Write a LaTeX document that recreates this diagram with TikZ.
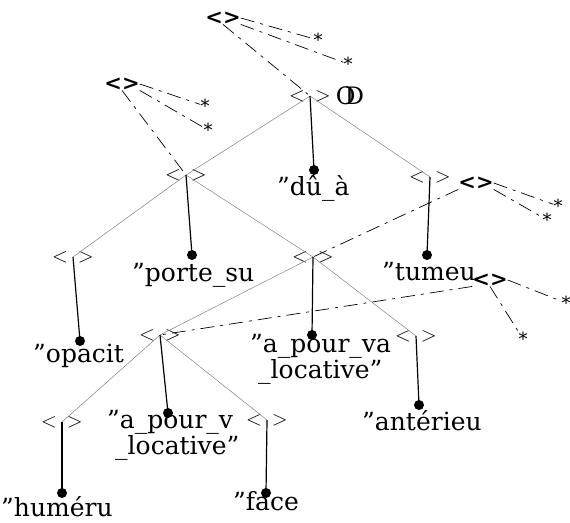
\documentclass[tikz,border=0pt]{standalone}
\usepackage{fontspec}
\setmainfont{DejaVu Serif}
\usetikzlibrary{positioning}
\tikzstyle{treeDiagram} = [x = 1pt, y = -1pt]
\tikzstyle{featNode} = [inner sep = 0pt, font=\fontsize{21}{21}\selectfont]
\tikzstyle{tagNode} = [inner sep = 0pt, font=\fontsize{21}{21}\selectfont\bfseries]
\tikzstyle{starNode} = [inner sep = 0pt, font=\fontsize{18}{18}\selectfont]
\tikzstyle{leafDot} = [circle, fill=black, inner sep = 0pt, minimum size = 10pt]
\tikzstyle{leafText} = [inner sep = 0pt, anchor = base west, align = left, font=\fontsize{25}{17}\selectfont]
\tikzstyle{treeLine} = [color=gray, line width = .5pt]
\tikzstyle{valueLine} = [color=black, line width = 1.2pt]
\tikzstyle{tagLine} = [color=black, line width = .7pt, dash pattern = on 14pt off 6pt on 3pt off 6pt]
\newcommand{\feat}{${<}\hspace{10pt}{>}$}
\newcommand{\dq}{\symbol{34}}

\begin{document}
\begin{tikzpicture}[treeDiagram]
  \useasboundingbox (0,0) rectangle (570,522);

  % feature nodes
  \node [featNode] (root) at (310,96) {\feat};
  \node [featNode] (left) at (186,175) {\feat};
  \node [featNode] (right) at (430,177) {\feat};
  \node [featNode] (leftLeft) at (73,257) {\feat};
  \node [featNode] (leftMid) at (313,257) {\feat};
  \node [featNode] (midLeft) at (160,335) {\feat};
  \node [featNode] (midRight) at (416,336) {\feat};
  \node [featNode] (lowLeft) at (62,422) {\feat};
  \node [featNode] (lowRight) at (267,420) {\feat};
  \node [inner sep = 0pt, font=\fontsize{24}{24}\selectfont] (rootType) at (350,96) {O\kern-.45em D};

  \draw [treeLine] (root.center) -- (left.center);
  \draw [treeLine] (root.center) -- (right.center);
  \draw [treeLine] (left.center) -- (leftLeft.center);
  \draw [treeLine] (left.center) -- (leftMid.center);
  \draw [treeLine] (leftMid.center) -- (midLeft.center);
  \draw [treeLine] (leftMid.center) -- (midRight.center);
  \draw [treeLine] (midLeft.center) -- (lowLeft.center);
  \draw [treeLine] (midLeft.center) -- (lowRight.center);

  % values
  \node [leafDot] (rootDot) at (314,170) {};
  \node [leafDot] (leftDot) at (192,255) {};
  \node [leafDot] (rightDot) at (427,255) {};
  \node [leafDot] (leftLeftDot) at (80,341) {};
  \node [leafDot] (leftMidDot) at (312,335) {};
  \node [leafDot] (midRightDot) at (419,405) {};
  \node [leafDot] (midLeftDot) at (168,413) {};
  \node [leafDot] (lowLeftDot) at (62,493) {};
  \node [leafDot] (lowRightDot) at (266,493) {};

  \draw [valueLine] (root.center) -- (rootDot.center);
  \draw [valueLine] (left.center) -- (leftDot.center);
  \draw [valueLine] (right.center) -- (rightDot.center);
  \draw [valueLine] (leftLeft.center) -- (leftLeftDot.center);
  \draw [valueLine] (leftMid.center) -- (leftMidDot.center);
  \draw [valueLine] (midRight.center) -- (midRightDot.center);
  \draw [valueLine] (midLeft.center) -- (midLeftDot.center);
  \draw [valueLine] (lowLeft.center) -- (lowLeftDot.center);
  \draw [valueLine] (lowRight.center) -- (lowRightDot.center);

  \node [leafText] (rootVal) at (277,195) {\dq dû\_à};
  \node [leafText] (leftVal) at (132,281) {\dq porte\_su};
  \node [leafText] (rightVal) at (382,280) {\dq tumeu};
  \node [leafText] (leftLeftVal) at (33,362) {\dq opacit};
  \node [leafText] (leftMidVal) at (250,378) {\dq a\_pour\_va\\\hspace*{8pt}\_locative\dq};
  \node [leafText] (midRightVal) at (362,430) {\dq antérieu};
  \node [leafText] (midLeftVal) at (107,454) {\dq a\_pour\_v\\\hspace*{8pt}\_locative\dq};
  \node [leafText] (lowLeftVal) at (1,516) {\dq huméru};
  \node [leafText] (lowRightVal) at (233,510) {\dq face};

  % tags
  \node [tagNode] (tagA) at (223,18) {<>};
  \node [starNode] (starA1) at (318,40) {*};
  \node [starNode] (starA2) at (348,64) {*};
  \node [tagNode] (tagB) at (122,84) {<>};
  \node [starNode] (starB1) at (205,106) {*};
  \node [starNode] (starB2) at (208,130) {*};
  \node [tagNode] (tagC) at (476,183) {<>};
  \node [starNode] (starC1) at (558,206) {*};
  \node [starNode] (starC2) at (547,220) {*};
  \node [tagNode] (tagD) at (490,280) {<>};
  \node [starNode] (starD1) at (566,303) {*};
  \node [starNode] (starD2) at (523,339) {*};

  \draw [tagLine] (tagA.east) -- (starA1);
  \draw [tagLine] (tagA.south east) -- (starA2);
  \draw [tagLine] (tagA.south) -- (root.center);
  \draw [tagLine] (tagB.east) -- (starB1);
  \draw [tagLine] (tagB.south east) -- (starB2);
  \draw [tagLine] (tagB.south) -- (left.center);
  \draw [tagLine] (tagC.east) -- (starC1);
  \draw [tagLine] (tagC.south east) -- (starC2);
  \draw [tagLine] (tagC.south west) -- (leftMid.center);
  \draw [tagLine] (tagD.east) -- (starD1);
  \draw [tagLine] (tagD.south) -- (starD2);
  \draw [tagLine] (tagD.south west) -- (midLeft.center);
\end{tikzpicture}
\end{document}
